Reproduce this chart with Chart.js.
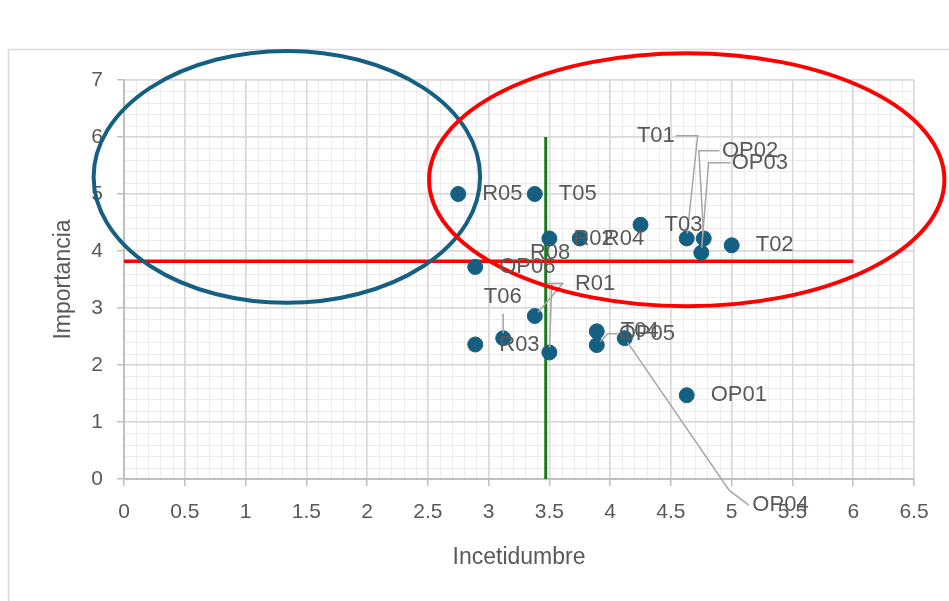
<!DOCTYPE html>
<html>
<head>
<meta charset="utf-8">
<script src="https://cdn.jsdelivr.net/npm/chart.js@4"></script>
<style>
  html, body { margin: 0; padding: 0; background: #fff; }
  #wrap { width: 949px; height: 601px; position: relative; }
</style>
</head>
<body>
<div id="wrap"><canvas id="riskChart" width="949" height="601"></canvas></div>
<script>
/* ---------- data ---------- */
var codes = ['R05', 'T05', 'R02', 'R04', 'T03', 'T01', 'OP02', 'OP03', 'T02',
             'OP06', 'R08', 'R01', 'T06', 'R03', 'T04', 'OP05', 'OP04', 'OP01'];
var incertidumbre = [2.75, 3.38, 3.5, 3.75, 4.25, 4.63, 4.77, 4.75, 5.0,
                     2.89, 3.38, 3.5, 3.12, 2.89, 3.89, 3.89, 4.12, 4.63];
var importancia = [5.0, 5.0, 4.22, 4.22, 4.46, 4.22, 4.22, 3.97, 4.1,
                   3.72, 2.86, 2.22, 2.47, 2.36, 2.59, 2.35, 2.47, 1.47];

var xTicks = { min: 0, max: 6.5, step: 0.5, minor: 0.1 };
var yTicks = { min: 0, max: 7, step: 1, minor: 0.2 };

// reference lines
var umbralImportancia = 3.82;   // horizontal red line, from x=0 to x=6
var umbralIncertidumbre = 3.47; // vertical green line, from y=0 to y=6

// zones (ellipses, in axis units)
var zonaAzul = { cx: 1.34, cy: 5.30, rx: 1.59, ry: 2.21 };
var zonaRoja = { cx: 4.63, cy: 5.25, rx: 2.12, ry: 2.22 };

// labels that were dragged away from their point (axis units);
// path = leader line vertices, it always ends at the point
var movedLabels = {
	R08:  { x: 3.34, y: 3.97, path: [[3.48, 3.43], [3.61, 3.43]] },
	R01:  { x: 3.71, y: 3.43, path: [[3.61, 3.43], [3.52, 3.43]] },
	T06:  { x: 2.96, y: 3.19, path: [[3.12, 2.90]] },
	T01:  { x: 4.22, y: 6.02, path: [[4.54, 6.02], [4.72, 6.02]] },
	OP02: { x: 4.92, y: 5.76, path: [[4.90, 5.76], [4.73, 5.76]] },
	OP03: { x: 5.00, y: 5.55, path: [[4.99, 5.55], [4.81, 5.55]] },
	OP05: { x: 4.07, y: 2.55, path: [[4.06, 2.55], [3.98, 2.55]] },
	OP04: { x: 5.17, y: -0.46, path: [[5.14, -0.46], [4.98, -0.2]] }
};

var points = codes.map(function (c, i) { return { x: incertidumbre[i], y: importancia[i], code: c }; });

var textGray = '#595959';
var fontFam = '"Liberation Sans", Arial, sans-serif';

/* ---------- plugin: minor grid, ellipses, labels ---------- */
var decor = {
	id: 'decor',
	beforeDraw: function (chart) {
		var ctx = chart.ctx, a = chart.chartArea, xs = chart.scales.x, ys = chart.scales.y;
		ctx.save();
		// outer frame
		ctx.strokeStyle = '#d9d9d9';
		ctx.lineWidth = 1.5;
		ctx.beginPath();
		ctx.moveTo(8.5, 610); ctx.lineTo(8.5, 49.5); ctx.lineTo(960, 49.5);
		ctx.stroke();
		// minor grid
		ctx.strokeStyle = '#ececec';
		ctx.lineWidth = 1;
		ctx.beginPath();
		for (var v = xTicks.min; v <= xTicks.max + 1e-9; v += xTicks.minor) {
			var px = Math.round(xs.getPixelForValue(v)) + 0.5;
			ctx.moveTo(px, a.top); ctx.lineTo(px, a.bottom);
		}
		for (var w = yTicks.min; w <= yTicks.max + 1e-9; w += yTicks.minor) {
			var py = Math.round(ys.getPixelForValue(w)) + 0.5;
			ctx.moveTo(a.left, py); ctx.lineTo(a.right, py);
		}
		ctx.stroke();
		ctx.restore();
	},
	afterDatasetsDraw: function (chart) {
		var ctx = chart.ctx, xs = chart.scales.x, ys = chart.scales.y;
		var X = function (v) { return xs.getPixelForValue(v); };
		var Y = function (v) { return ys.getPixelForValue(v); };
		ctx.save();
		ctx.font = '22px ' + fontFam;
		ctx.textBaseline = 'middle';

		// leader lines
		ctx.strokeStyle = '#a6a6a6';
		ctx.lineWidth = 1.5;
		points.forEach(function (p) {
			var m = movedLabels[p.code];
			if (!m || !m.path) return;
			var path = m.path;
			var last = path[path.length - 1];
			ctx.beginPath();
			ctx.moveTo(X(path[0][0]), Y(path[0][1]));
			for (var k = 1; k < path.length; k++) ctx.lineTo(X(path[k][0]), Y(path[k][1]));
			var ang = Math.atan2(Y(last[1]) - Y(p.y), X(last[0]) - X(p.x));
			ctx.lineTo(X(p.x) + 5 * Math.cos(ang), Y(p.y) + 5 * Math.sin(ang));
			ctx.stroke();
		});

		// ellipses
		ctx.lineWidth = 4;
		[[zonaAzul, '#156082'], [zonaRoja, '#ff0000']].forEach(function (z) {
			var e = z[0];
			ctx.strokeStyle = z[1];
			ctx.beginPath();
			ctx.ellipse(X(e.cx), Y(e.cy), Math.abs(X(e.cx + e.rx) - X(e.cx)),
				Math.abs(Y(e.cy + e.ry) - Y(e.cy)), 0, 0, Math.PI * 2);
			ctx.stroke();
		});

		// data labels
		ctx.fillStyle = textGray;
		ctx.textAlign = 'left';
		points.forEach(function (p) {
			var m = movedLabels[p.code];
			if (m) ctx.fillText(p.code, X(m.x), Y(m.y));
			else ctx.fillText(p.code, X(p.x) + 24, Y(p.y));
		});
		ctx.restore();
	}
};

var plainNumber = function (v) { return String(+v.toFixed(1)); };

var ctx1 = document.getElementById('riskChart').getContext('2d');

var riskChart = new Chart(ctx1, {
	type: 'scatter',
	data: {
		datasets: [{
			label: 'Riesgos',
			data: points,
			backgroundColor: '#156082',
			borderColor: '#156082',
			pointRadius: 7.5,
			pointHoverRadius: 7.5,
			order: 1
		}, {
			type: 'line',
			label: 'Umbral importancia',
			data: [ { x: 0, y: umbralImportancia }, { x: 6, y: umbralImportancia } ],
			borderColor: '#ff0000',
			borderWidth: 3.5,
			pointRadius: 0,
			order: 2
		}, {
			type: 'line',
			label: 'Umbral incertidumbre',
			data: [ { x: umbralIncertidumbre, y: 0 }, { x: umbralIncertidumbre, y: 6 } ],
			borderColor: '#1a7a1a',
			borderWidth: 3,
			pointRadius: 0,
			order: 3
		}],
	},
	options: {
		responsive: false,
		animation: false,
		clip: false,
		layout: {
			padding: { left: 46, right: 35, top: 80, bottom: 26 },
		},
		plugins: {
			legend: { display: false },
			tooltip: { enabled: false },
		},
		scales: {
			x: {
				type: 'linear',
				min: xTicks.min,
				max: xTicks.max,
				afterFit: function (s) { s.height = 96; },
				ticks: {
					stepSize: xTicks.step,
					color: textGray,
					font: { family: fontFam, size: 21 },
					padding: 14,
					callback: plainNumber,
				},
				grid: { color: '#d9d9d9', lineWidth: 1.5, tickLength: 7, tickColor: '#bfbfbf' },
				border: { color: '#bfbfbf', width: 2 },
				title: {
					display: true,
					text: 'Incetidumbre',
					color: textGray,
					font: { family: fontFam, size: 23 },
					padding: { top: 8 },
				},
			},
			y: {
				type: 'linear',
				min: yTicks.min,
				max: yTicks.max,
				afterFit: function (s) { s.width = 78; },
				ticks: {
					stepSize: yTicks.step,
					color: textGray,
					font: { family: fontFam, size: 21 },
					padding: 14,
					callback: plainNumber,
				},
				grid: { color: '#d9d9d9', lineWidth: 1.5, tickLength: 7, tickColor: '#bfbfbf' },
				border: { color: '#bfbfbf', width: 2 },
				title: {
					display: true,
					text: 'Importancia',
					color: textGray,
					font: { family: fontFam, size: 23 },
					padding: { bottom: 4 },
				},
			},
		},
	},
	plugins: [decor],
});
</script>
</body>
</html>
